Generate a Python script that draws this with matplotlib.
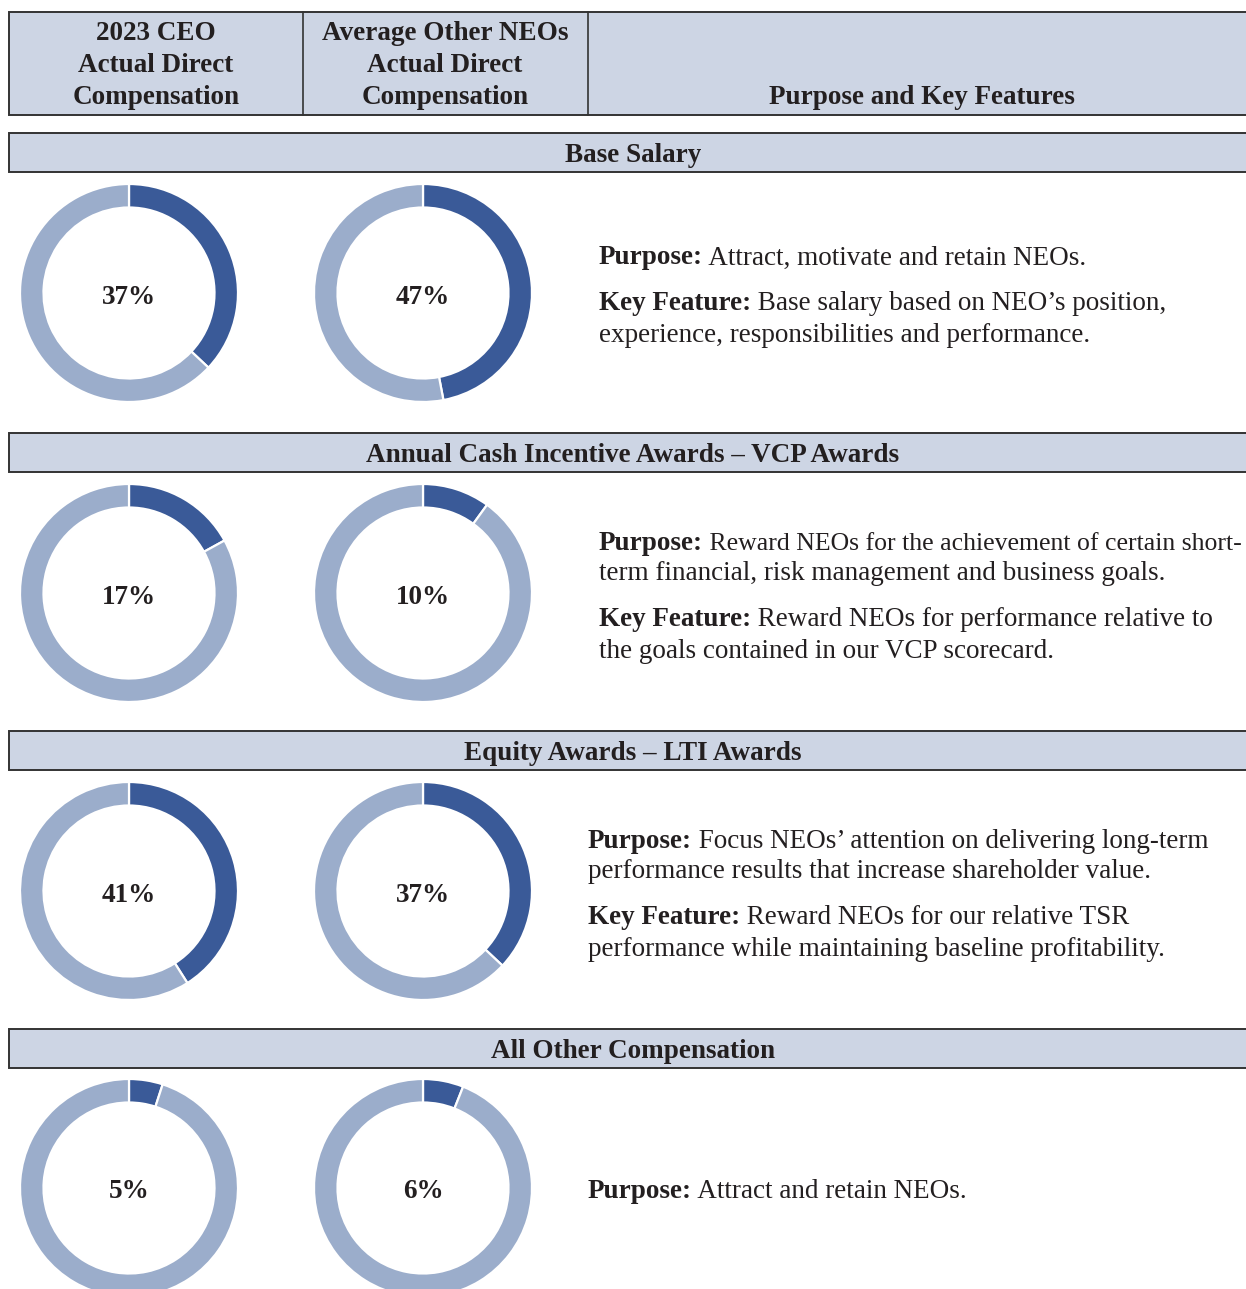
import matplotlib
matplotlib.use("Agg")
import matplotlib.pyplot as plt
from matplotlib.patches import Rectangle

# ---- data ----
sections = ["Base Salary",
            "Annual Cash Incentive Awards \u2013 VCP Awards",
            "Equity Awards \u2013 LTI Awards",
            "All Other Compensation"]
ceo_pct = [37, 17, 41, 5]
neo_pct = [47, 10, 37, 6]
ceo_header = ["2023 CEO", "Actual Direct", "Compensation"]
neo_header = ["Average Other NEOs", "Actual Direct", "Compensation"]
feat_header = "Purpose and Key Features"
# each paragraph: (bold lead, rest of first line, continuation lines)
texts = [
    [("Purpose:", " Attract, motivate and retain NEOs.", []),
     ("Key Feature:", " Base salary based on NEO\u2019s position,",
      ["experience, responsibilities and performance."])],
    [("Purpose:", " Reward NEOs for the achievement of certain short-",
      ["term financial, risk management and business goals."]),
     ("Key Feature:", " Reward NEOs for performance relative to",
      ["the goals contained in our VCP scorecard."])],
    [("Purpose:", " Focus NEOs\u2019 attention on delivering long-term",
      ["performance results that increase shareholder value."]),
     ("Key Feature:", " Reward NEOs for our relative TSR",
      ["performance while maintaining baseline profitability."])],
    [("Purpose:", " Attract and retain NEOs.", [])],
]

# ---- style ----
W, H = 1246, 1289
DARK = "#3A5A98"
LIGHT = "#9BADCB"
BAND = "#CDD5E4"
EDGE = "#333333"
TXT = "#231F20"
FONT = "Liberation Serif"
FS = 19.5
DY = 3  # visual centring offset

fig = plt.figure(figsize=(W / 100, H / 100), dpi=100)
ax = fig.add_axes([0, 0, 1, 1])
ax.set_xlim(0, W)
ax.set_ylim(H, 0)
ax.axis("off")
renderer = fig.canvas.get_renderer()

# header box
ax.add_patch(Rectangle((9, 12), W - 9 + 5, 103, facecolor=BAND, edgecolor=EDGE, lw=1.4))
for xd in (303, 588):
    ax.plot([xd, xd], [12, 115], color=EDGE, lw=1.2)
for k, line in enumerate(ceo_header):
    ax.text(156, 31 + DY + 32 * k, line, ha="center", va="center", fontsize=FS,
            fontweight="bold", family=FONT, color=TXT)
for k, line in enumerate(neo_header):
    ax.text(445, 31 + DY + 32 * k, line, ha="center", va="center", fontsize=FS,
            fontweight="bold", family=FONT, color=TXT)
ax.text(922, 95 + DY, feat_header, ha="center", va="center", fontsize=FS,
        fontweight="bold", family=FONT, color=TXT)

band_tops = [133, 433, 731, 1029]
donut_cy = [293, 593, 891, 1188]
donut_cx = [129, 423]
text_x = [599, 599, 588, 588]
para_y = [[255, 301], [540, 617], [838, 915], [1189]]
LS = 31
R = 109.0
RING = 23.5
RIGHT_LIMIT = 1241

for i, name in enumerate(sections):
    top = band_tops[i]
    ax.add_patch(Rectangle((9, top), W - 9 + 5, 39, facecolor=BAND, edgecolor=EDGE, lw=1.4))
    ax.text(633, top + 20 + DY, name, ha="center", va="center", fontsize=FS,
            fontweight="bold", family=FONT, color=TXT)

    for cx, vals in zip(donut_cx, (ceo_pct, neo_pct)):
        v = vals[i]
        cy = donut_cy[i]
        pax = fig.add_axes([(cx - R) / W, (H - cy - R) / H, 2 * R / W, 2 * R / H])
        pax.pie([v, 100 - v], startangle=90, counterclock=False,
                colors=[DARK, LIGHT], radius=1,
                wedgeprops=dict(width=RING / R, edgecolor="white", linewidth=1.6))
        pax.set_xlim(-1, 1)
        pax.set_ylim(-1, 1)
        pax.set_aspect("equal")
        pax.axis("off")
        pax.text(0, -1.0 / R, f"{v}%", ha="center", va="center_baseline", fontsize=FS,
                 fontweight="bold", family=FONT, color=TXT)

    for (bold, rest, cont), y0 in zip(texts[i], para_y[i]):
        t = ax.text(text_x[i], y0 + DY, bold, ha="left", va="center", fontsize=FS,
                    fontweight="bold", family=FONT, color=TXT)
        r = ax.annotate(rest, xy=(1, 0), xycoords=t, ha="left", va="bottom",
                        fontsize=FS, family=FONT, color=TXT)
        # shrink the line slightly if it would run past the right edge
        bb = r.get_window_extent(renderer)
        if bb.x1 > RIGHT_LIMIT:
            r.set_fontsize(FS * (RIGHT_LIMIT - bb.x0) / bb.width)
        for k, line in enumerate(cont):
            ax.text(text_x[i], y0 + DY + LS * (k + 1), line, ha="left", va="center",
                    fontsize=FS, family=FONT, color=TXT)

fig.savefig("out.png", dpi=100)
